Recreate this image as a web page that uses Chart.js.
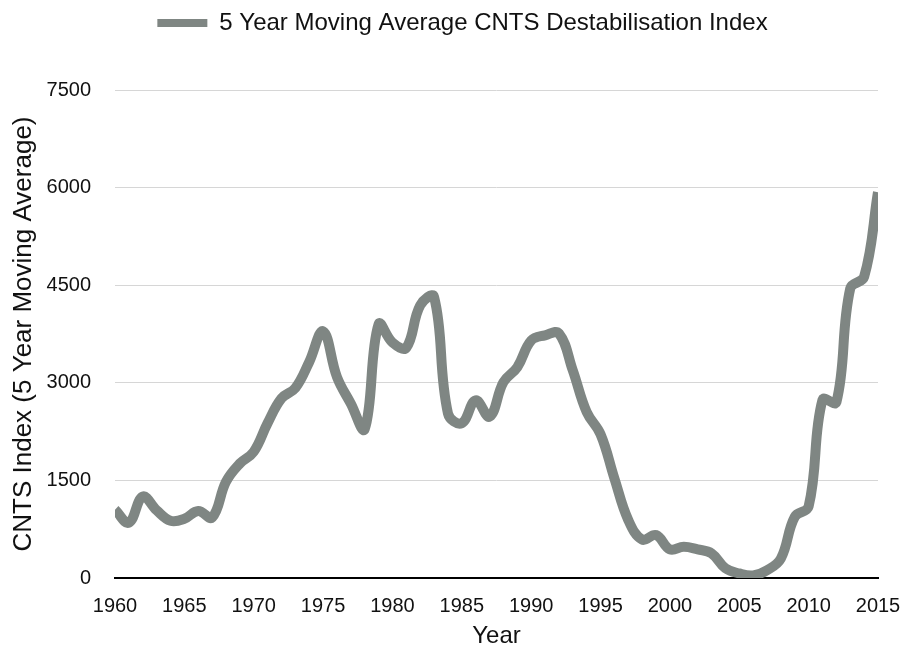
<!DOCTYPE html>
<html>
<head>
<meta charset="utf-8">
<script src="https://cdn.jsdelivr.net/npm/chart.js@4"></script>
<style>
  html, body { margin: 0; padding: 0; background: #fff; }
  #wrap { width: 903px; height: 647px; }
</style>
</head>
<body>
<div id="wrap"><canvas id="c" width="903" height="647"></canvas></div>
<script>
const years = [1960,1961,1962,1963,1964,1965,1966,1967,1968,1969,1970,1971,1972,1973,1974,1975,1976,1977,1978,1979,1980,1981,1982,1983,1984,1985,1986,1987,1988,1989,1990,1991,1992,1993,1994,1995,1996,1997,1998,1999,2000,2001,2002,2003,2004,2005,2006,2007,2008,2009,2010,2011,2012,2013,2014,2015];
const cntsIndex = [1050,850,1250,1040,880,910,1030,930,1480,1760,1940,2380,2760,2920,3320,3790,3090,2680,2290,3900,3620,3540,4190,4320,2530,2380,2730,2480,3010,3240,3650,3730,3760,3190,2550,2210,1530,890,590,660,440,480,440,380,150,70,40,120,300,940,1100,2740,2700,4450,4630,5930];
const seriesLabel = '5 Year Moving Average CNTS Destabilisation Index';
const yTicks = [0,1500,3000,4500,6000,7500];
const xTickYears = [1960,1965,1970,1975,1980,1985,1990,1995,2000,2005,2010,2015];

const FONT = '"Liberation Sans", Arial, Helvetica, sans-serif';
const lineColor = '#7f8683';

const layoutTweak = {
  id: 'layoutTweak',
  beforeInit(chart) {
    const lg = chart.legend;
    if (lg && !lg._tweaked) {
      const origFit = lg.fit.bind(lg);
      lg.fit = function () { origFit(); this.height += 45; };
      lg._tweaked = true;
    }
  },
  afterLayout(chart) {
    const lg = chart.legend;
    if (lg) { lg.left += 11; lg.right += 11; }
  }
};

new Chart(document.getElementById('c'), {
  type: 'line',
  data: {
    datasets: [{
      label: seriesLabel,
      data: years.map((y, i) => ({ x: y, y: cntsIndex[i] })),
      borderColor: lineColor,
      backgroundColor: lineColor,
      borderWidth: 10,
      pointRadius: 0,
      tension: 0.4,
      fill: false,
      borderCapStyle: 'butt'
    }]
  },
  plugins: [layoutTweak],
  options: {
    responsive: false,
    animation: false,
    layout: { padding: { top: 0, right: 0, left: 0, bottom: 0 } },
    plugins: {
      legend: {
        display: true,
        position: 'top',
        labels: {
          boxWidth: 50,
          boxHeight: 8,
          padding: 11,
          color: '#111',
          font: { family: FONT, size: 24 },
          generateLabels: chart => {
            const items = Chart.defaults.plugins.legend.labels.generateLabels(chart);
            items.forEach(it => { it.lineWidth = 0; it.fillStyle = lineColor; });
            return items;
          }
        }
      },
      tooltip: { enabled: false }
    },
    scales: {
      x: {
        type: 'linear',
        min: 1960,
        max: 2015,
        afterBuildTicks: s => { s.ticks = xTickYears.map(v => ({ value: v })); },
        afterFit: s => { s.height = 69; s.paddingRight = 25; },
        grid: { display: false, drawTicks: false },
        border: { display: true, color: '#000', width: 2 },
        ticks: {
          color: '#111',
          padding: 16,
          maxRotation: 0,
          autoSkip: false,
          font: { family: FONT, size: 20 },
          callback: v => String(v)
        },
        title: {
          display: true,
          text: 'Year',
          color: '#111',
          padding: { top: 0, bottom: -4 },
          font: { family: FONT, size: 24 }
        }
      },
      y: {
        min: 0,
        max: 7500,
        afterBuildTicks: s => { s.ticks = yTicks.map(v => ({ value: v })); },
        afterFit: s => { s.width = 115; },
        grid: { color: '#d6d6d6', lineWidth: 1, drawTicks: false },
        border: { display: false },
        ticks: {
          color: '#111',
          padding: 24,
          font: { family: FONT, size: 20 },
          callback: v => String(v)
        },
        title: {
          display: true,
          text: 'CNTS Index (5 Year Moving Average)',
          color: '#111',
          padding: { top: 8, bottom: 0 },
          font: { family: FONT, size: 26 }
        }
      }
    }
  }
});
</script>
</body>
</html>
